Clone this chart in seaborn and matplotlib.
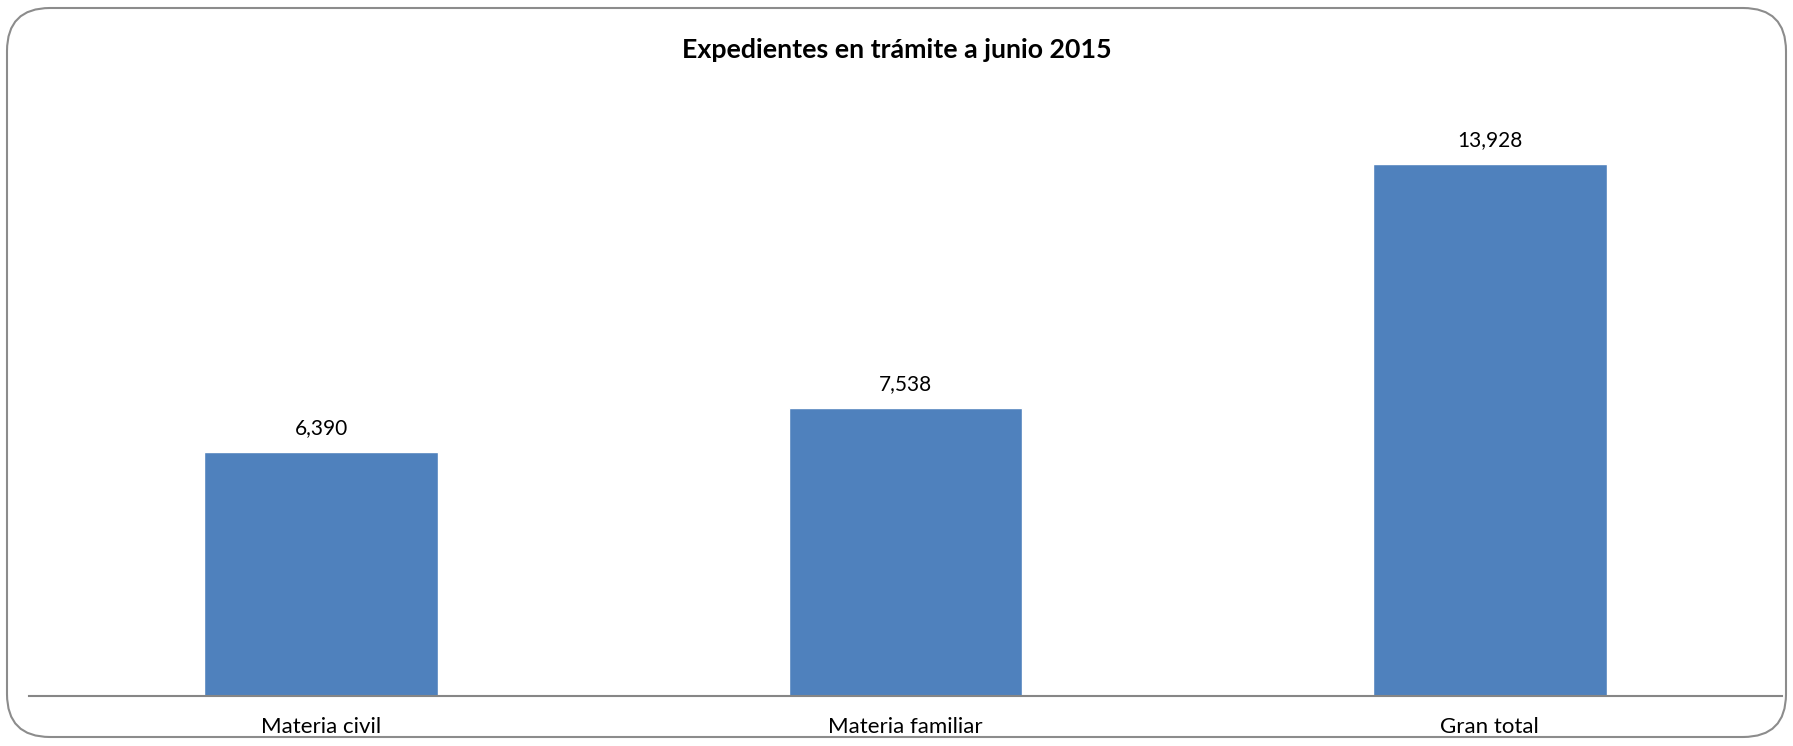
import matplotlib
matplotlib.use("Agg")
import matplotlib.pyplot as plt
from matplotlib.patches import FancyBboxPatch
import seaborn as sns
import pandas as pd

categories = ["Materia civil", "Materia familiar", "Gran total"]
values = [6390, 7538, 13928]
title = "Expedientes en trámite a junio 2015"

sns.set_theme(style="white")
plt.rcParams['font.family'] = ['Lato', 'DejaVu Sans']

df = pd.DataFrame({"cat": categories, "val": values})

fig = plt.figure(figsize=(17.93, 7.46), dpi=100)
ax = fig.add_axes([29/1793, 1 - 696/746, (1782 - 29)/1793, 0.886 - (1 - 696/746)])

sns.barplot(data=df, x="cat", y="val", color="#4F81BD", saturation=1, width=0.4, ax=ax)
ax.set_ylim(0, 16000)
ax.set_xlim(-0.5, 2.5)

for i, v in enumerate(values):
    ax.annotate(f"{v:,}", (i, v), xytext=(0, 10), textcoords="offset points",
                ha="center", va="bottom", fontsize=15, color="black")

ax.set_xlabel("")
ax.set_ylabel("")
ax.set_yticks([])
ax.tick_params(axis="x", length=0, pad=15, labelsize=16, colors="black")
for s in ["top", "right", "left"]:
    ax.spines[s].set_visible(False)
ax.spines["bottom"].set_color("#868686")
ax.spines["bottom"].set_linewidth(1.5)

fig.text(0.5, 1 - 50/746, title, ha="center", va="center", fontsize=19.3, fontweight="bold", color="black")

frame = FancyBboxPatch((7/1793, 9/746), (1786 - 7)/1793, (738 - 9)/746,
                       boxstyle="round,pad=0,rounding_size=0.024",
                       transform=fig.transFigure, facecolor="none",
                       edgecolor="#8c8c8c", linewidth=1.5, mutation_aspect=1793/746)
fig.patches.append(frame)

fig.savefig("out.png", dpi=100)
